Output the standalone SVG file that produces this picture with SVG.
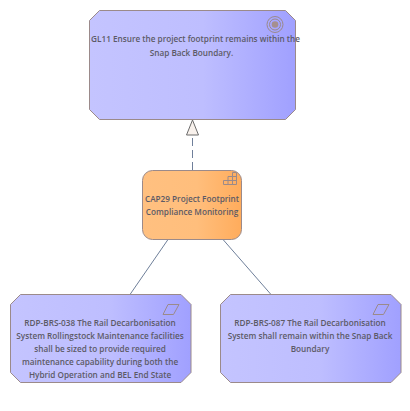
<svg xmlns="http://www.w3.org/2000/svg" width="410" height="411" viewBox="0 0 410 411">
<style>
.n{stroke:#9b8a8a;stroke-width:1}
.t{font-family:"Open Sans","Noto Sans","DejaVu Sans",sans-serif;font-size:8.2px;font-weight:600;fill:#5c5a66;text-anchor:middle}
.i{fill:none;stroke:#9b8a8a;stroke-width:1}
.c{fill:none;stroke:#6f7f9a;stroke-width:1}
</style>
<defs>
<linearGradient id="b" x1="0" x2="1" y1="0" y2="0"><stop offset="0" stop-color="#c4c4ff"/><stop offset="0.55" stop-color="#bebeff"/><stop offset="1" stop-color="#a0a0ff"/></linearGradient>
<linearGradient id="o" x1="0" x2="1" y1="0" y2="0"><stop offset="0" stop-color="#ffc080"/><stop offset="0.55" stop-color="#ffbe7c"/><stop offset="1" stop-color="#ffac5c"/></linearGradient>
</defs>
<rect width="410" height="411" fill="#fff"/>
<g id="connectors">
<path class="c" d="M192.500 170V135" stroke-dasharray="8 4"/>
<path d="M192.500 120L186.500 135H198.500Z" fill="#f8f1ec" stroke="#6b6b6b"/>
<path class="c" d="M168 239.500L130 294.500"/>
<path class="c" d="M223 239.500L271 294.500"/>
</g>
<g id="GL11">
<path class="n" fill="url(#b)" d="M99.500 10.500H285.500L295.500 20.500V109.500L285.500 119.500H99.500L89.500 109.500V20.500Z"/>
<circle class="i" cx="275" cy="24.500" r="8"/><circle class="i" cx="275" cy="24.500" r="5.500"/><circle cx="275" cy="24.500" r="3.300" fill="#a58f8f"/>
<text class="t" x="195.500" y="42">GL11 Ensure the project footprint remains within the</text>
<text class="t" x="191.500" y="55.500">Snap Back Boundary.</text>
</g>
<g id="CAP29">
<rect class="n" fill="url(#o)" x="142.500" y="170.500" width="99" height="69" rx="10" ry="10"/>
<path class="i" d="M223.500 184.500V180.500H228V176.500H232.500V172.500H236.500V184.500ZM228 180.500H236.500M232.500 176.500H236.500M228 180.500V184.500M232.500 176.500V184.500"/>
<text class="t" x="192" y="202">CAP29 Project Footprint</text>
<text class="t" x="192" y="215">Compliance Monitoring</text>
</g>
<g id="RDP-BRS-038">
<path class="n" fill="url(#b)" d="M20.500 294.500H181L191 304.500V372.500L181 382.500H20.500L10.500 372.500V304.500Z"/>
<path class="i" d="M168 304.500H179L173.500 314.500H163Z"/>
<text class="t" x="100" y="326">RDP-BRS-038 The Rail Decarbonisation</text>
<text class="t" x="100" y="339">System Rollingstock Maintenance facilities</text>
<text class="t" x="100" y="352">shall be sized to provide required</text>
<text class="t" x="100" y="365">maintenance capability during both the</text>
<text class="t" x="100" y="378">Hybrid Operation and BEL End State</text>
</g>
<g id="RDP-BRS-087">
<path class="n" fill="url(#b)" d="M230.500 294.500H391L401 304.500V372.500L391 382.500H230.500L220.500 372.500V304.500Z"/>
<path class="i" d="M378 304.500H389L383.500 314.500H373Z"/>
<text class="t" x="310" y="326">RDP-BRS-087 The Rail Decarbonisation</text>
<text class="t" x="310" y="339">System shall remain within the Snap Back</text>
<text class="t" x="310" y="352">Boundary</text>
</g>
</svg>
